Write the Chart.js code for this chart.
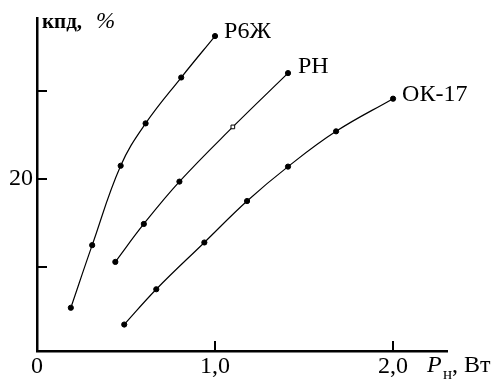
<!DOCTYPE html>
<html>
<head>
<meta charset="utf-8">
<script src="https://cdn.jsdelivr.net/npm/chart.js@4.4.1/dist/chart.umd.min.js"></script>
<style>
  html, body { margin: 0; padding: 0; background: #fff; }
  #wrap { width: 494px; height: 380px; }
</style>
</head>
<body>
<div id="wrap"><canvas id="c" width="494" height="380"></canvas></div>
<script>
// curve values (P in W, efficiency in %)
const seriesNames = ["Р6Ж", "РН", "ОК-17"];
const r6zhX = [0.19, 0.31, 0.47, 0.61, 0.81, 1.0];
const r6zhY = [5.4, 12.5, 21.5, 26.3, 31.5, 36.2];
const rnX = [0.44, 0.60, 0.80, 1.10, 1.41];
const rnY = [10.6, 14.9, 19.7, 25.9, 32.0];
const ok17X = [0.49, 0.67, 0.94, 1.18, 1.41, 1.68, 2.0];
const ok17Y = [3.5, 7.5, 12.8, 17.5, 21.4, 25.4, 29.1];
const xTicks = [0, 1, 2];
const xTickLabels = ["0", "1,0", "2,0"];
const yTicks = [10, 20, 30];
const yTickLabels = ["", "20", ""];

const serif = "'Liberation Serif', 'Times New Roman', Times, serif";

function pts(xs, ys) {
  return xs.map((x, i) => ({ x: x, y: ys[i] }));
}

function line(label, xs, ys, hollowIdx) {
  return {
    label: label,
    data: pts(xs, ys),
    showLine: true,
    borderColor: '#000',
    borderWidth: 1.2,
    tension: 0.4,
    pointRadius: 2.6,
    pointBorderWidth: 1,
    pointBorderColor: '#000',
    pointStyle: xs.map((_, i) => i === hollowIdx ? 'rect' : 'circle'),
    pointBackgroundColor: xs.map((_, i) => i === hollowIdx ? '#fff' : '#000')
  };
}

// ticks drawn inside the axes, curve names and axis captions
const extras = {
  id: 'extras',
  afterDraw(chart) {
    const ctx = chart.ctx;
    const xs = chart.scales.x, ys = chart.scales.y;
    const a = chart.chartArea;
    ctx.save();
    ctx.strokeStyle = '#000';
    ctx.lineWidth = 2;
    yTicks.forEach(v => {
      const py = Math.round(ys.getPixelForValue(v));
      ctx.beginPath(); ctx.moveTo(a.left, py); ctx.lineTo(a.left + 10, py); ctx.stroke();
    });
    xTicks.slice(1).forEach(v => {
      const px = Math.round(xs.getPixelForValue(v));
      ctx.beginPath(); ctx.moveTo(px, a.bottom); ctx.lineTo(px, a.bottom - 10); ctx.stroke();
    });

    ctx.fillStyle = '#000';
    ctx.textBaseline = 'middle';
    ctx.textAlign = 'left';
    ctx.font = '24px ' + serif;
    const offs = [[9, -4], [10, -6], [9, -4]];
    chart.data.datasets.forEach((ds, i) => {
      const meta = chart.getDatasetMeta(i);
      const last = meta.data[meta.data.length - 1];
      ctx.fillText(seriesNames[i], last.x + offs[i][0], last.y + offs[i][1]);
    });

    ctx.textBaseline = 'alphabetic';
    ctx.font = 'bold 21px ' + serif;
    ctx.fillText('кпд,', 42, 28);
    ctx.font = 'italic 23px ' + serif;
    ctx.fillText('%', 96, 28);

    ctx.font = 'italic 24px ' + serif;
    ctx.fillText('P', 427, 372);
    ctx.font = '17px ' + serif;
    ctx.fillText('н', 443, 379);
    ctx.font = '24px ' + serif;
    ctx.fillText(', Вт', 452, 372);
    ctx.restore();
  }
};

new Chart(document.getElementById('c'), {
  type: 'scatter',
  data: {
    datasets: [
      line(seriesNames[0], r6zhX, r6zhY, -1),
      line(seriesNames[1], rnX, rnY, 3),
      line(seriesNames[2], ok17X, ok17Y, -1)
    ]
  },
  options: {
    responsive: false,
    animation: false,
    devicePixelRatio: 1,
    layout: { padding: { top: 14, right: 47, left: 0, bottom: 0 } },
    plugins: { legend: { display: false }, tooltip: { enabled: false } },
    scales: {
      x: {
        type: 'linear',
        min: 0,
        max: 2.303,
        afterFit(s) { s.height = 29; },
        afterBuildTicks(s) { s.ticks = xTicks.map(v => ({ value: v })); },
        grid: { display: false, drawTicks: false },
        border: { display: true, color: '#000', width: 2.5 },
        ticks: {
          color: '#000',
          padding: 1,
          maxRotation: 0,
          font: { family: serif, size: 24 },
          callback: (v) => xTickLabels[xTicks.indexOf(v)] ?? ''
        }
      },
      y: {
        type: 'linear',
        min: 0.5,
        max: 38.2,
        afterFit(s) { s.width = 37; },
        afterBuildTicks(s) { s.ticks = yTicks.map(v => ({ value: v })); },
        grid: { display: false, drawTicks: false },
        border: { display: true, color: '#000', width: 2.5 },
        ticks: {
          color: '#000',
          padding: 4,
          font: { family: serif, size: 24 },
          callback: (v) => yTickLabels[yTicks.indexOf(v)] ?? ''
        }
      }
    }
  },
  plugins: [extras]
});
</script>
</body>
</html>
